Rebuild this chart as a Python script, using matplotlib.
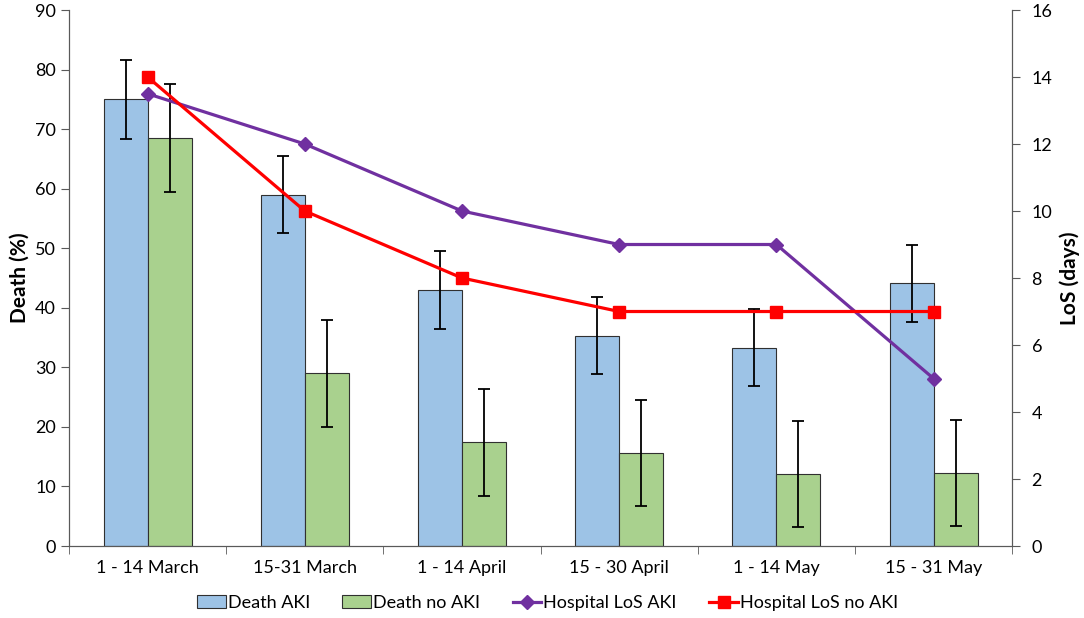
import matplotlib
matplotlib.use('Agg')
from matplotlib import pyplot as plt
import numpy as np

plt.rcParams['font.family'] = ['Lato', 'DejaVu Sans']

periods = ['1 - 14 March', '15-31 March', '1 - 14 April', '15 - 30 April', '1 - 14 May', '15 - 31 May']
death_aki = [75, 59, 43, 35.3, 33.3, 44.1]
death_aki_err = [6.6, 6.5, 6.5, 6.5, 6.5, 6.5]
death_no_aki = [68.5, 29, 17.4, 15.6, 12.1, 12.2]
death_no_aki_err = [9, 9, 9, 8.9, 8.9, 8.9]
los_aki = [13.5, 12, 10, 9, 9, 5]
los_no_aki = [14, 10, 8, 7, 7, 7]

fig = plt.figure(figsize=(10.84, 6.18), dpi=100)
ax = fig.add_axes([0.0637, 0.1165, 0.87, 0.8673])
x = np.arange(len(periods))
w = 0.28

b1 = ax.bar(x - w / 2, death_aki, w, color='#9DC3E6', edgecolor='#303030', linewidth=0.8, label='Death AKI', zorder=2)
b2 = ax.bar(x + w / 2, death_no_aki, w, color='#A9D18E', edgecolor='#303030', linewidth=0.8, label='Death no AKI', zorder=2)
ax.errorbar(x - w / 2, death_aki, yerr=death_aki_err, fmt='none', ecolor='black', elinewidth=1.3, capsize=4, capthick=1.3, zorder=3)
ax.errorbar(x + w / 2, death_no_aki, yerr=death_no_aki_err, fmt='none', ecolor='black', elinewidth=1.3, capsize=4, capthick=1.3, zorder=3)

ax.set_xlim(-0.5, 5.5)
ax.set_ylim(0, 90)
ax.set_yticks(range(0, 91, 10))
ax.set_xticks(x)
ax.set_xticklabels(periods, fontsize=13)
ax.set_xticks(np.arange(-0.5, 6, 1), minor=True)
ax.tick_params(axis='x', which='major', length=0, pad=10)
ax.tick_params(axis='x', which='minor', length=6, direction='out', color='#595959')
ax.tick_params(axis='y', labelsize=13, length=6, direction='out', color='#595959')
ax.set_ylabel('Death (%)', fontsize=15, fontweight='bold', labelpad=4)
ax.spines['top'].set_visible(False)
for s in ['left', 'bottom', 'right']:
    ax.spines[s].set_color('#595959')

ax2 = ax.twinx()
l1, = ax2.plot(x, los_aki, color='#7030A0', lw=2.3, marker='D', markersize=7, label='Hospital LoS AKI', zorder=4)
l2, = ax2.plot(x, los_no_aki, color='#FF0000', lw=2.3, marker='s', markersize=9, label='Hospital LoS no AKI', zorder=4)
ax2.set_ylim(0, 16)
ax2.set_yticks(range(0, 17, 2))
ax2.tick_params(axis='y', labelsize=13, length=6, direction='out', color='#595959', pad=8)
ax2.set_ylabel('LoS (days)', fontsize=15, fontweight='bold', labelpad=5)
ax2.spines['top'].set_visible(False)
for s in ['left', 'bottom', 'right']:
    ax2.spines[s].set_color('#595959')

fig.legend(handles=[b1, b2, l1, l2], loc='lower center', bbox_to_anchor=(0.505, -0.015), ncol=4,
           frameon=False, fontsize=13, handlelength=1.6, handletextpad=0.1, columnspacing=1.8)

fig.savefig('out.png', dpi=100)
